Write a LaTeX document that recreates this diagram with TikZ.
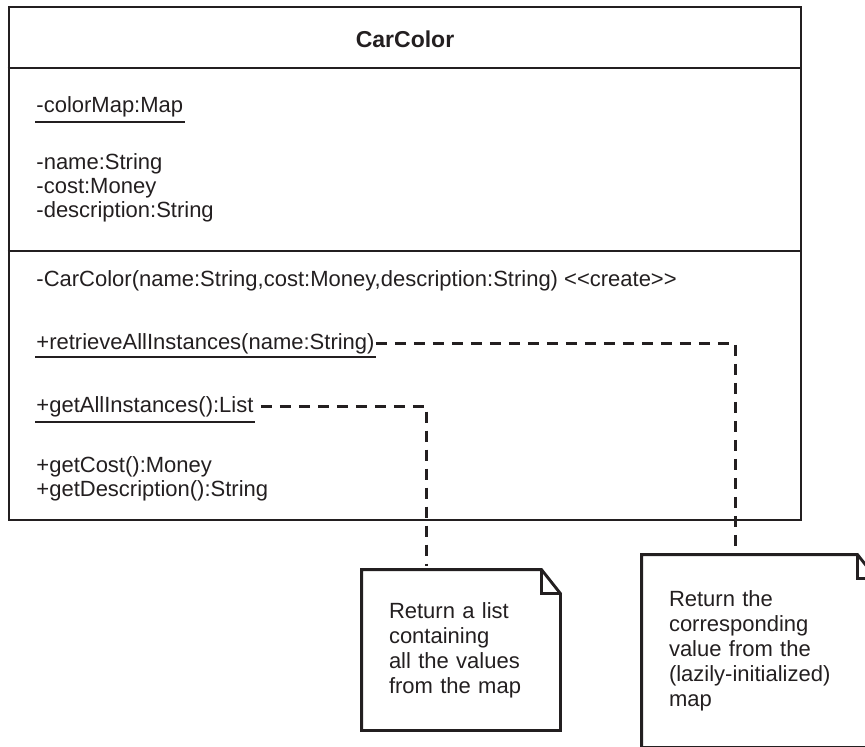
\documentclass[tikz,border=0pt]{standalone}
\usepackage{fontspec}
\setmainfont{Liberation Sans}
\usetikzlibrary{positioning}
\definecolor{ink}{RGB}{35,31,32}

\begin{document}
\begin{tikzpicture}[
    x=1pt, y=-1pt,
    line width=2.9pt, color=ink,
    member/.style={anchor=base west, inner sep=0pt, font=\fontsize{22}{24}\selectfont},
    classbox/.style={draw, minimum width=792pt, minimum height=513pt, inner sep=0pt},
    umlnote/.style={inner xsep=26pt, inner ysep=0pt, align=left,
                    font=\fontsize{22}{25}\selectfont},
    notelink/.style={dash pattern=on 11pt off 8pt},
  ]
    \useasboundingbox (0,0) rectangle (865,747);
    \clip (0,0) rectangle (865,747);

    % --- the class box and its compartments ---
    \node[classbox] (carcolor) at (405,263.5) {};
    \coordinate (hdrline) at (0,68);
    \coordinate (attrline) at (0,251);
    \draw (carcolor.west |- hdrline) -- (carcolor.east |- hdrline);
    \draw (carcolor.west |- attrline) -- (carcolor.east |- attrline);

    \node[anchor=base, inner sep=0pt, font=\fontsize{23}{26}\selectfont\bfseries]
      (title) at (405,47) {CarColor};

    % attributes (static one underlined)
    \node[member] (colormap) at (35,112) {-colorMap:Map};
    \draw ([yshift=-10pt]colormap.base west) -- ([yshift=-10pt]colormap.base east);
    \foreach \txt/\yy [count=\i] in {-name:String/169, -cost:Money/193, -description:String/217}
      \node[member] (attr\i) at (35,\yy) {\txt};

    % operations
    \node[member] (ctor) at (35,286)
      {-CarColor(name:String,cost:Money,description:String) <\kern0pt<create>\kern0pt>};
    \node[member] (retrieve) at (35,349) {+retrieveAllInstances(name:String)};
    \draw ([yshift=-8pt]retrieve.base west) -- ([yshift=-8pt]retrieve.base east);
    \node[member] (getall) at (35,412) {+getAllInstances():List};
    \draw ([yshift=-10pt]getall.base west) -- ([yshift=-10pt]getall.base east);
    \node[member] (getcost) at (35,472) {+getCost():Money};
    \node[member] (getdesc) at (35,496) {+getDescription():String};

    % --- notes ---
    \node[umlnote, text width=144pt, minimum height=158pt] (listnote) at (461,650)
      {Return a list\\containing\\all the values\\from the map};
    \node[umlnote, text width=180pt, minimum height=190pt] (mapnote) at (759,651)
      {Return the\\corresponding\\value from the\\(lazily-initialized)\\map};
    \foreach \n in {listnote,mapnote} {
      \draw (\n.north west) -- ([xshift=-19pt]\n.north east) -- ([yshift=-24pt]\n.north east)
        -- (\n.south east) -- (\n.south west) -- cycle;
      \draw ([xshift=-19pt]\n.north east) |- ([yshift=-24pt]\n.north east);
    }

    % --- dashed anchors from operations to notes ---
    \draw[notelink] (retrieve.east) -| ([xshift=94pt,yshift=8pt]mapnote.north west);
    \draw[notelink] ([xshift=6pt]getall.east) -| ([xshift=65pt,yshift=4pt]listnote.north west);
  \end{tikzpicture}
\end{document}
